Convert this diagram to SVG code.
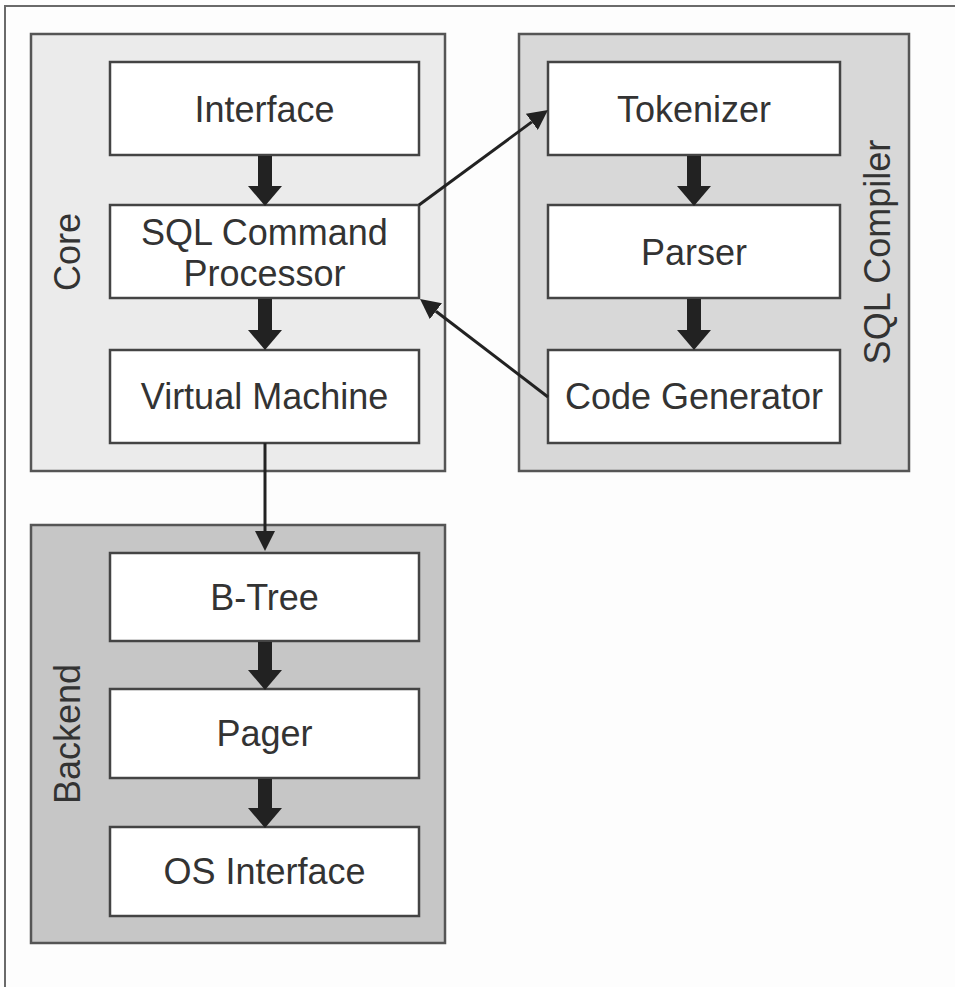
<svg xmlns="http://www.w3.org/2000/svg" width="955" height="987" viewBox="0 0 955 987">
<style>
.bg{fill:#fdfdfd}
.frame{stroke:#6a6a6a;stroke-width:2;fill:none}
.grp{stroke:#555;stroke-width:2.5}
.core{fill:#ebebeb}
.comp{fill:#d8d8d8}
.back{fill:#c6c6c6}
.box{fill:#ffffff;stroke:#444;stroke-width:2.5}
.t{font-family:"Liberation Sans",Arial,sans-serif;font-size:36px;fill:#333;text-anchor:middle}
.thick{stroke:#222;stroke-width:14;fill:none}
.thin{stroke:#222;stroke-width:3;fill:none}
</style>
<defs>
<marker id="hk" markerUnits="userSpaceOnUse" viewBox="0 0 20 34" markerWidth="20" markerHeight="34" refX="0" refY="17" orient="auto"><path d="M0,0 L20,17 L0,34 z" fill="#222"/></marker>
<marker id="hn" markerUnits="userSpaceOnUse" viewBox="0 0 20 20" markerWidth="20" markerHeight="20" refX="0" refY="10" orient="auto"><path d="M0,0 L20,10 L0,20 z" fill="#222"/></marker>
</defs>
<rect class="bg" x="0" y="0" width="955" height="987"/>
<path class="frame" d="M5,987 L5,6 L955,6"/>

<g id="core">
<rect class="grp core" x="31" y="34" width="414" height="437"/>
<text class="t" transform="translate(80,252) rotate(-90)">Core</text>
</g>
<g id="sqlcompiler">
<rect class="grp comp" x="519" y="34" width="390" height="437"/>
<text class="t" transform="translate(890,252) rotate(-90)">SQL Compiler</text>
</g>
<g id="backend">
<rect class="grp back" x="31" y="525" width="414" height="418"/>
<text class="t" transform="translate(80,734) rotate(-90)">Backend</text>
</g>

<g id="interface"><rect class="box" x="110" y="62" width="309" height="93"/><text class="t" x="264.5" y="122">Interface</text></g>
<g id="sqlcmd"><rect class="box" x="110" y="205" width="309" height="93"/><text class="t" x="264.5" y="245">SQL Command</text><text class="t" x="264.5" y="286">Processor</text></g>
<g id="vm"><rect class="box" x="110" y="350" width="309" height="93"/><text class="t" x="264.5" y="409">Virtual Machine</text></g>
<g id="tokenizer"><rect class="box" x="548" y="62" width="292" height="93"/><text class="t" x="694" y="122">Tokenizer</text></g>
<g id="parser"><rect class="box" x="548" y="205" width="292" height="93"/><text class="t" x="694" y="265">Parser</text></g>
<g id="codegen"><rect class="box" x="548" y="350" width="292" height="93"/><text class="t" x="694" y="409">Code Generator</text></g>
<g id="btree"><rect class="box" x="110" y="553" width="309" height="88"/><text class="t" x="264.5" y="610">B-Tree</text></g>
<g id="pager"><rect class="box" x="110" y="689" width="309" height="89"/><text class="t" x="264.5" y="746">Pager</text></g>
<g id="osif"><rect class="box" x="110" y="827" width="309" height="89"/><text class="t" x="264.5" y="884">OS Interface</text></g>

<g id="connectors">
<path class="thick" d="M265,156 L265,186" marker-end="url(#hk)"/>
<path class="thick" d="M265,299 L265,330" marker-end="url(#hk)"/>
<path class="thick" d="M694,156 L694,186" marker-end="url(#hk)"/>
<path class="thick" d="M694,299 L694,330" marker-end="url(#hk)"/>
<path class="thick" d="M265,642 L265,670" marker-end="url(#hk)"/>
<path class="thick" d="M265,779 L265,808" marker-end="url(#hk)"/>
<path class="thin" d="M419,205 L531.9,121.9" marker-end="url(#hn)"/>
<path class="thin" d="M548,397 L435.9,311.2" marker-end="url(#hn)"/>
<path class="thin" d="M265,443 L265,531" marker-end="url(#hn)"/>
</g>
</svg>
